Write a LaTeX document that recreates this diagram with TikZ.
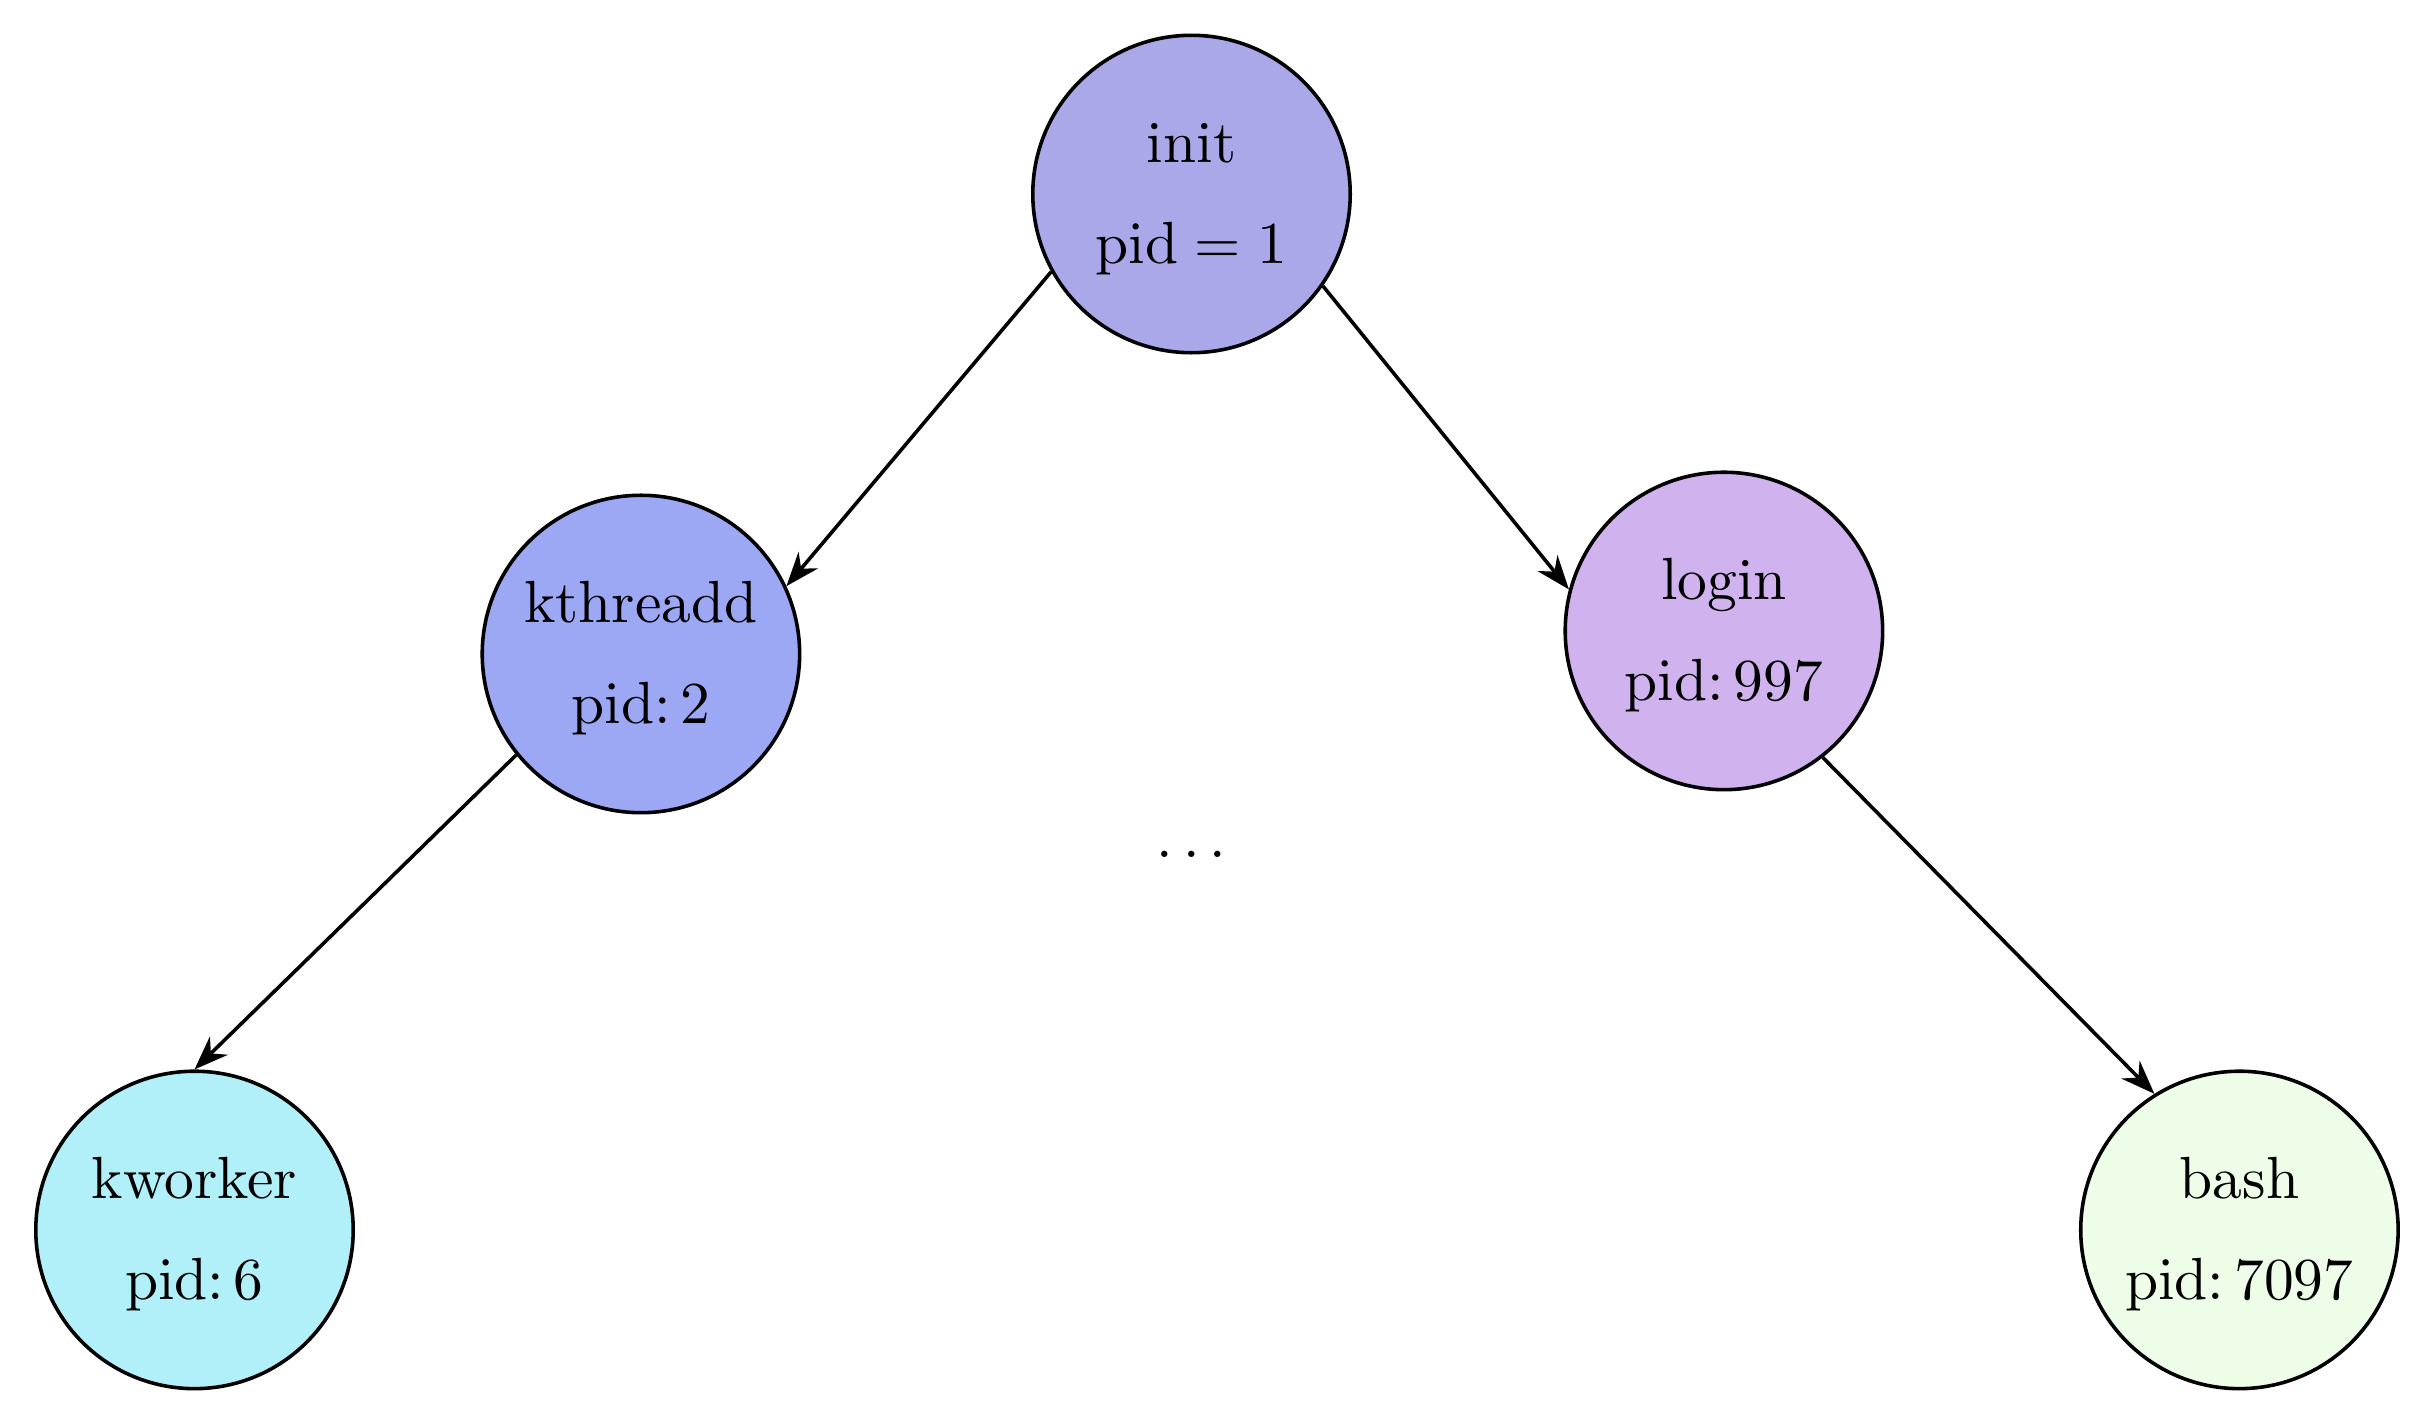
\documentclass[tikz,border=0pt]{standalone}
\usetikzlibrary{arrows.meta}

\definecolor{initcol}{RGB}{171,168,234}
\definecolor{kthcol}{RGB}{157,168,245}
\definecolor{logcol}{RGB}{207,178,238}
\definecolor{kwcol}{RGB}{177,239,249}
\definecolor{bashcol}{RGB}{238,253,232}

\tikzset{proc/.style={circle,draw,semithick,minimum size=1.875cm,align=center,inner sep=0pt}}

\begin{document}
\begin{tikzpicture}[>=Stealth]
        \useasboundingbox (-7.038,1.146) rectangle (7.339,-7.265);
        %processes
        \node[proc,fill=initcol] (init) at (0,0) {\strut init\\[5pt]$\mathrm{pid}=1$};
        \node[proc,fill=kthcol] (kthreadd) at (-3.252,-2.717) {\strut kthreadd\\[5pt]$\mathrm{pid}\colon 2$};
        \node[proc,fill=logcol] (login) at (3.145,-2.581) {\strut login\\[5pt]$\mathrm{pid}\colon 997$};
        \node[proc,fill=kwcol] (kworker) at (-5.889,-6.119) {\strut kworker\\[5pt]$\mathrm{pid}\colon 6$};
        \node[proc,fill=bashcol] (bash) at (6.190,-6.119) {\strut bash\\[5pt]$\mathrm{pid}\colon 7097$};
        \node (dots) at (0,-3.898) {$\ldots$};
    
        %children
        \draw[->,semithick] (init.209) -- (kthreadd.25);
        \draw[->,semithick] (init.325) -- (login.165);
        \draw[->,semithick] (kthreadd.219) -- (kworker.north);
        \draw[->,semithick] (login.308) -- (bash.122);
    \end{tikzpicture}
\end{document}
